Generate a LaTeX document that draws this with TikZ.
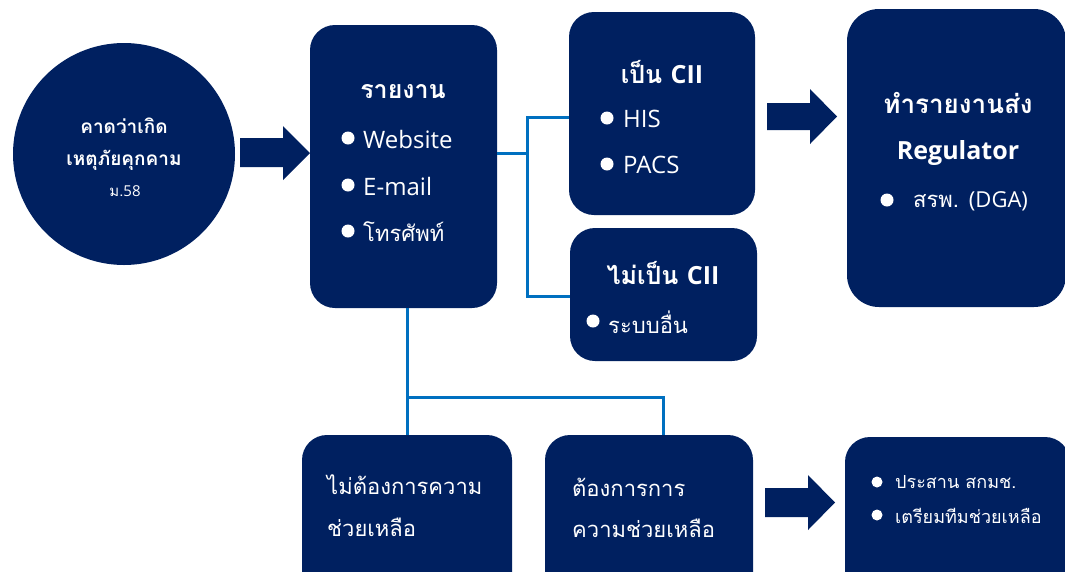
\documentclass[tikz,border=0pt]{standalone}
\usepackage{fontspec}
\setmainfont[Script=Thai]{Loma}
\newfontfamily\latfont{Open Sans}
\newcommand{\lat}[1]{{\latfont #1}}
\newcommand{\latbig}[1]{{\latfont\fontsize{24}{28}\selectfont #1}}
\definecolor{navy}{RGB}{0,32,96}
\definecolor{linkblue}{RGB}{0,112,192}
\begin{document}
\begin{tikzpicture}[x=1pt,y=-1pt,
  box/.style={fill=navy, rounded corners=25pt, inner sep=0pt},
  conn/.style={draw=linkblue, line width=3pt},
  txt/.style={text=white, inner sep=0pt, anchor=west, font=\fontsize{22}{26}\selectfont},
  ttl/.style={text=white, inner sep=0pt, anchor=center, font=\bfseries\fontsize{25}{30}\selectfont},
  small/.style={text=white, inner sep=0pt, anchor=west, font=\fontsize{18}{21}\selectfont},
  bul/.style={fill=white},
  barrow/.style={fill=navy}]
\useasboundingbox (0,0) rectangle (1065,571);
\clip (0,0) rectangle (1065,571);

% circle
\node[circle, fill=navy, minimum size=222pt, inner sep=0pt] (start) at (124,154) {};
\node[text=white, inner sep=0pt, font=\bfseries\fontsize{19}{22}\selectfont] (s1) at (124,126) {คาดว่าเกิด};
\node[text=white, inner sep=0pt, font=\bfseries\fontsize{19}{22}\selectfont] (s2) at (124,160) {เหตุภัยคุกคาม};
\node[text=white, inner sep=0pt, font=\fontsize{15}{18}\selectfont] (s3) at (125,191) {ม.\lat{58}};

% boxes
\node[box, minimum width=187pt, minimum height=283pt] (rep) at (403.5,166.5) {};
\node[box, minimum width=186pt, minimum height=203pt] (cii) at (662,113.5) {};
\node[box, minimum width=187pt, minimum height=133pt] (noncii) at (663.5,294.5) {};
\node[box, rounded corners=32pt, minimum width=219pt, minimum height=298pt] (reg) at (956.5,158) {};
\node[box, minimum width=210pt, minimum height=165pt] (nohelp) at (407,517.5) {};
\node[box, minimum width=208pt, minimum height=165pt] (help) at (649,517.5) {};
\node[box, minimum width=225pt, minimum height=163pt] (act) at (957.5,518.5) {};

% block arrows
\fill[barrow] (240,138) -- (283,138) -- (283,126) -- (310,153) -- (283,180) -- (283,167) -- (240,167) -- cycle;
\fill[barrow] (767,103) -- (810,103) -- (810,89) -- (837,116.5) -- (810,144) -- (810,130) -- (767,130) -- cycle;
\fill[barrow] (765,488) -- (808,488) -- (808,475) -- (835,502.5) -- (808,530) -- (808,517) -- (765,517) -- cycle;

% connectors
\coordinate (j1) at (527,153);
\coordinate (j2) at (407,397);
\draw[conn] ([yshift=13.5pt]rep.east) -- (j1);
\draw[conn] ([yshift=-3.5pt]cii.west) -| (j1) |- ([yshift=-1.5pt]noncii.west);
\draw[conn] (rep.south -| j2) -- (j2 |- nohelp.north);
\draw[conn] (j2) -| ([xshift=14pt]help.north);

% report box text
\node[ttl] (repT) at (403,92) {รายงาน};
\fill[bul] (348,138) circle (6.5);
\fill[bul] (348,185) circle (6.5);
\fill[bul] (348,231) circle (6.5);
\node[txt] (r1) at (363,139) {\latbig{Website}};
\node[txt] (r2) at (363,186) {\latbig{E-mail}};
\node[txt] (r3) at (363,232) {โทรศัพท์};

% CII box
\node[ttl] (ciiT) at (662,72) {เป็น \lat{CII}};
\fill[bul] (607,118) circle (6.5);
\fill[bul] (607,164) circle (6.5);
\node[txt] (c1) at (623,119) {\latbig{HIS}};
\node[txt] (c2) at (623,165) {\latbig{PACS}};

% non-CII box
\node[ttl] (nciiT) at (663,273) {ไม่เป็น \lat{CII}};
\fill[bul] (593,321) circle (6.5);
\node[txt] (n1) at (608,322) {ระบบอื่น};

% regulator box
\node[ttl, font=\bfseries\fontsize{26}{30}\selectfont] (regT1) at (958,103) {ทำรายงานส่ง};
\node[ttl] (regT2) at (958,153) {\lat{Regulator}};
\fill[bul] (887,200) circle (6.5);
\node[txt] (g1) at (913,201) {สรพ. \lat{(DGA)}};

% bottom boxes
\node[txt] (h1) at (327,485) {ไม่ต้องการความ};
\node[txt] (h2) at (327,527) {ช่วยเหลือ};
\node[txt] (p1) at (572,487) {ต้องการการ};
\node[txt] (p2) at (572,528) {ความช่วยเหลือ};

% action box
\fill[bul] (877,482) circle (5.5);
\fill[bul] (877,515) circle (5.5);
\node[small] (a1) at (895,482) {ประสาน สกมช.};
\node[small] (a2) at (895,516) {เตรียมทีมช่วยเหลือ};
\end{tikzpicture}
\end{document}
